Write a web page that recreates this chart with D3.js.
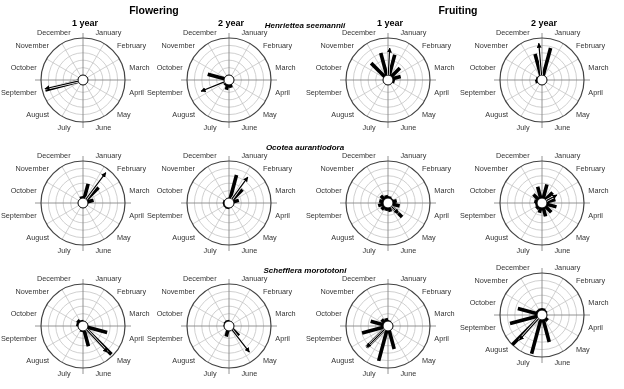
<!DOCTYPE html>
<html>
<head>
<meta charset="utf-8">
<script src="https://cdn.jsdelivr.net/npm/d3@7"></script>
<style>
  body { margin: 0; background: #fff; }
  text { font-family: "Liberation Sans", Arial, sans-serif; }
  svg { will-change: transform; }
</style>
</head>
<body>
<div id="chart"></div>
<script>
// months, clockwise from the top
var months = ["January", "February", "March", "April", "May", "June",
              "July", "August", "September", "October", "November", "December"];
var species = ["Henriettea seemannii", "Ocotea aurantiodora", "Schefflera morototoni"];
var phases = ["Flowering", "Fruiting"];
var years = ["1 year", "2 year"];

// monthly bars (Jan..Dec), % of the outer radius
var henFlower1 = [0, 0, 0, 0, 0, 0, 0, 0, 92, 0, 0, 0];
var henFlower2 = [0, 0, 0, 0, 0, 8, 14, 5, 0, 46, 0, 0];
var henFruit1  = [57, 32, 22, 5, 0, 0, 0, 0, 0, 0, 51, 62];
var henFruit2  = [76, 0, 0, 0, 0, 0, 0, 0, 5, 3, 1, 59];
var ocoFlower1 = [40, 46, 16, 0, 0, 0, 0, 0, 0, 0, 0, 5];
var ocoFlower2 = [65, 38, 14, 0, 0, 0, 3, 3, 3, 3, 0, 0];
var ocoFruit1  = [5, 3, 11, 19, 40, 11, 8, 11, 14, 11, 14, 8];
var ocoFruit2  = [38, 27, 24, 27, 22, 24, 14, 8, 5, 8, 19, 32];
var schFlower1 = [0, 0, 0, 54, 95, 43, 3, 0, 0, 5, 8, 3];
var schFlower2 = [0, 0, 0, 0, 24, 0, 16, 0, 0, 1, 3, 3];
var schFruit1  = [2, 0, 0, 0, 0, 51, 84, 68, 59, 35, 11, 8];
var schFruit2  = [5, 3, 0, 0, 8, 62, 95, 100, 76, 54, 5, 5];

// mean vector of each panel (degrees clockwise from north, % of radius)
var arrowAngle  = [257, 248, 3, 355, 37, 36, 135, 62, 137, 142, 225, 222];
var arrowLength = [92, 68, 73, 86, 89, 73, 27, 32, 84, 76, 68, 78];

var panels = [henFlower1, henFlower2, henFruit1, henFruit2,
              ocoFlower1, ocoFlower2, ocoFruit1, ocoFruit2,
              schFlower1, schFlower2, schFruit1, schFruit2];

var width = 624, height = 389;
var colX = [83, 229, 388, 542];
var rowY = [80, 203, 326];
var R = 42, r0 = 5;

var svg = d3.select("#chart").append("svg")
    .attr("width", width)
    .attr("height", height);

svg.append("defs").append("marker")
    .attr("id", "head")
    .attr("viewBox", "0 0 10 10")
    .attr("refX", 9).attr("refY", 5)
    .attr("markerWidth", 5).attr("markerHeight", 5)
    .attr("markerUnits", "userSpaceOnUse")
    .attr("orient", "auto")
  .append("path")
    .attr("d", "M0,0L10,5L0,10z")
    .attr("fill", "#000");

var r = d3.scaleLinear().domain([0, 100]).range([r0, R]);
var ang = d3.scaleLinear().domain([0, 12]).range([0, 2 * Math.PI]);
var deg = function (d) { return d * Math.PI / 180; };

// titles
phases.forEach(function (p, i) {
    svg.append("text")
        .attr("x", [154, 458][i]).attr("y", 14)
        .attr("text-anchor", "middle")
        .attr("font-size", 10.5).attr("font-weight", "bold")
        .text(p);
});
colX.forEach(function (x, i) {
    svg.append("text")
        .attr("x", x + 2).attr("y", 26)
        .attr("text-anchor", "middle")
        .attr("font-size", 9).attr("font-weight", "bold")
        .text(years[i % 2]);
});
species.forEach(function (s, i) {
    svg.append("text")
        .attr("x", 305).attr("y", [28, 150, 273][i])
        .attr("text-anchor", "middle")
        .attr("font-size", 8).attr("font-weight", "bold").attr("font-style", "italic")
        .text(s);
});

panels.forEach(function (values, k) {
    var cx = colX[k % 4];
    var cy = rowY[Math.floor(k / 4)] + (k === 11 ? -11 : 0);
    var g = svg.append("g").attr("transform", "translate(" + cx + "," + cy + ")");

    // rings
    g.selectAll(".ring").data([20, 40, 60, 80]).enter().append("circle")
        .attr("r", function (d) { return r(d); })
        .attr("fill", "none").attr("stroke", "#c4c4c4").attr("stroke-width", 0.8);

    // spokes at month boundaries
    g.selectAll(".spoke").data(d3.range(12).filter(function (i) { return i % 3 !== 0; }))
        .enter().append("line")
        .attr("x1", 0).attr("y1", 0)
        .attr("x2", function (i) { return d3.pointRadial(ang(i), R)[0]; })
        .attr("y2", function (i) { return d3.pointRadial(ang(i), R)[1]; })
        .attr("stroke", "#c4c4c4").attr("stroke-width", 0.8);

    // axes through the centre
    g.append("line").attr("x1", -48).attr("x2", 48).attr("y1", 0).attr("y2", 0)
        .attr("stroke", "#888").attr("stroke-width", 0.9);
    g.append("line").attr("y1", -47).attr("y2", 48).attr("x1", 0).attr("x2", 0)
        .attr("stroke", "#888").attr("stroke-width", 0.9);

    g.append("circle").attr("r", R)
        .attr("fill", "none").attr("stroke", "#444").attr("stroke-width", 1.2);

    // monthly bars
    var bars = values.map(function (v, i) { return { month: i, value: v }; })
        .filter(function (d) { return d.value > 0; });
    g.selectAll(".bar").data(bars).enter().append("line")
        .attr("x1", 0).attr("y1", 0)
        .attr("x2", function (d) { return d3.pointRadial(ang(d.month + 0.5), r(d.value))[0]; })
        .attr("y2", function (d) { return d3.pointRadial(ang(d.month + 0.5), r(d.value))[1]; })
        .attr("stroke", "#000").attr("stroke-width", 3.6);

    g.append("circle").attr("r", r0)
        .attr("fill", "#fff").attr("stroke", "#000").attr("stroke-width", 1);

    // mean vector
    var a = deg(arrowAngle[k]);
    var p0 = d3.pointRadial(a, r0), p1 = d3.pointRadial(a, r(arrowLength[k]));
    g.append("line")
        .attr("x1", p0[0]).attr("y1", p0[1]).attr("x2", p1[0]).attr("y2", p1[1])
        .attr("stroke", "#fff").attr("stroke-width", 2.6);
    g.append("line")
        .attr("x1", p0[0]).attr("y1", p0[1]).attr("x2", p1[0]).attr("y2", p1[1])
        .attr("stroke", "#000").attr("stroke-width", 1.2)
        .attr("marker-end", "url(#head)");

    // month labels
    g.selectAll(".lab").data(months).enter().append("text")
        .attr("x", function (d, i) { return d3.pointRadial(ang(i + 0.5), 48)[0]; })
        .attr("y", function (d, i) { return d3.pointRadial(ang(i + 0.5), 49)[1]; })
        .attr("dy", "0.35em")
        .attr("text-anchor", function (d, i) { return i < 6 ? "start" : "end"; })
        .attr("font-size", 7.3).attr("fill", "#333").attr("opacity", 0.99)
        .text(function (d) { return d; });
});
</script>
</body>
</html>
